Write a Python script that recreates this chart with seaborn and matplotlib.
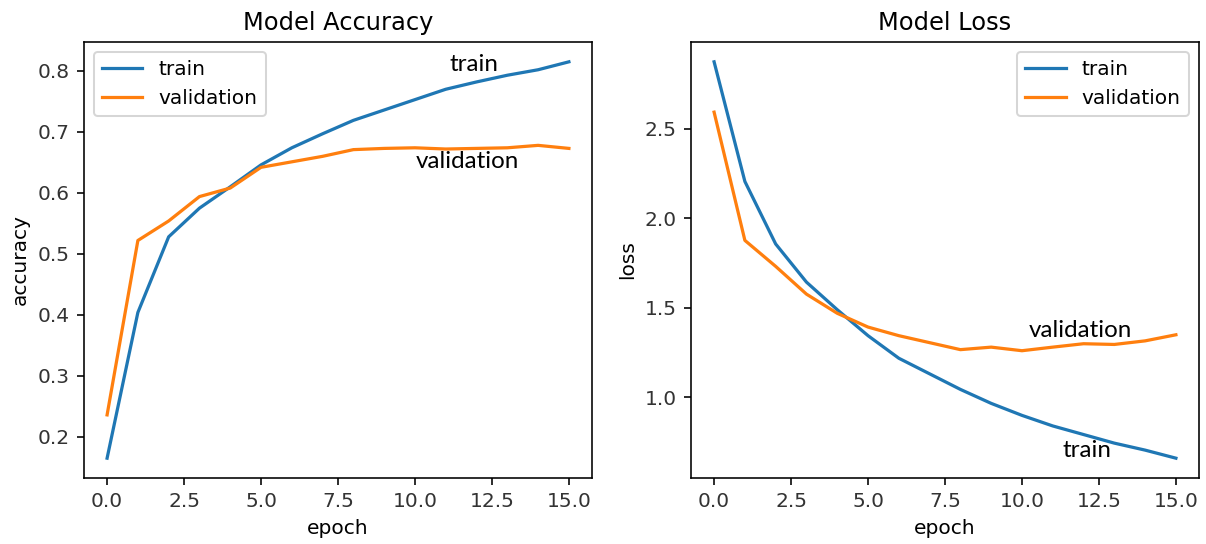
import matplotlib
matplotlib.use("Agg")
import matplotlib.pyplot as plt
import seaborn as sns
import pandas as pd

epochs = list(range(16))
acc_train = [0.165, 0.404, 0.528, 0.575, 0.610, 0.646, 0.674, 0.697, 0.719, 0.736,
             0.753, 0.770, 0.782, 0.793, 0.802, 0.815]
acc_val = [0.236, 0.522, 0.554, 0.594, 0.608, 0.642, 0.651, 0.660, 0.671, 0.673,
           0.674, 0.672, 0.673, 0.674, 0.678, 0.673]
loss_train = [2.874, 2.206, 1.857, 1.644, 1.490, 1.345, 1.219, 1.132, 1.045, 0.967,
              0.900, 0.841, 0.793, 0.745, 0.706, 0.661]
loss_val = [2.593, 1.877, 1.732, 1.577, 1.470, 1.393, 1.345, 1.306, 1.267, 1.281,
            1.261, 1.281, 1.300, 1.296, 1.316, 1.350]
series_names = ["train", "validation"]

blue, orange = "#1f77b4", "#ff7f0e"

dpi = 145
fig = plt.figure(figsize=(1206 / dpi, 544 / dpi), dpi=dpi)
ax1 = fig.add_axes([84 / 1206, 66 / 544, (592 - 84) / 1206, (478 - 42) / 544])
ax2 = fig.add_axes([691 / 1206, 66 / 544, (1199 - 691) / 1206, (478 - 42) / 544])

def draw(ax, tr, va, title, ylabel, legend_loc):
    df = pd.DataFrame({"epoch": epochs * 2,
                       "value": tr + va,
                       "series": [series_names[0]] * len(epochs) + [series_names[1]] * len(epochs)})
    sns.lineplot(data=df, x="epoch", y="value", hue="series",
                 palette=[blue, orange], ax=ax, linewidth=1.6)
    ax.set_title(title)
    ax.set_xlabel("epoch")
    ax.set_ylabel(ylabel)
    ax.legend(loc=legend_loc, title=None)
    ax.tick_params(labelcolor="#333333")

draw(ax1, acc_train, acc_val, "Model Accuracy", "accuracy", "upper left")
draw(ax2, loss_train, loss_val, "Model Loss", "loss", "upper right")
ax1.set_xticks([0, 2.5, 5, 7.5, 10, 12.5, 15])
ax2.set_xticks([0, 2.5, 5, 7.5, 10, 12.5, 15])

ann = dict(fontsize=12, family=["Lato", "DejaVu Sans"], color="black", ha="center", va="center")
ax1.text(11.9, 0.811, "train", **ann)
ax1.text(11.7, 0.652, "validation", **ann)
ax2.text(11.9, 1.373, "validation", **ann)
ax2.text(12.1, 0.704, "train", **ann)

fig.savefig("out.png", dpi=dpi)
